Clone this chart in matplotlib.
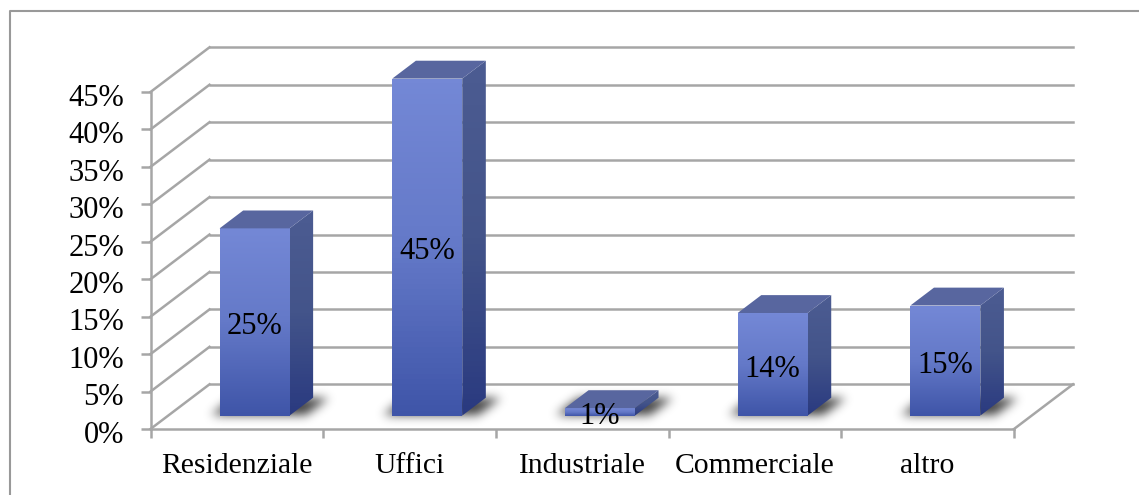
import numpy as np
import matplotlib
matplotlib.use("Agg")
import matplotlib.pyplot as plt
from matplotlib.colors import LinearSegmentedColormap
from matplotlib.patches import Polygon
from matplotlib.transforms import ScaledTranslation

categories = ["Residenziale", "Uffici", "Industriale", "Commerciale", "altro"]
values = [25, 45, 1, 13.7, 14.7]
y_ticks = [0, 5, 10, 15, 20, 25, 30, 35, 40, 45]

W, H = 1139, 495
GRAY = "#a6a6a6"

# pixels per data unit
PX_X = 172.7
PX_Y = 7.49

# fake 3d: one unit of depth moves a point right and up
DEPTH_X = 59 / PX_X
DEPTH_Y = 44.7 / PX_Y
BAR_W = 0.405
BAR_D0, BAR_D1 = 0.3, 0.7

front_cmap = LinearSegmentedColormap.from_list("front", ["#7488d6", "#6479c8", "#3f55a8"])
side_cmap = LinearSegmentedColormap.from_list("side", ["#4c5c92", "#43548a", "#2a3a80"])


def pt(x, y, d):
    return (x + d * DEPTH_X, y + d * DEPTH_Y)


def gradient_face(ax, corners, cmap, y_top, y_bot):
    xs = [c[0] for c in corners]
    ramp = np.linspace(0, 1, 64).reshape(-1, 1)
    im = ax.imshow(ramp, cmap=cmap, aspect="auto", zorder=3,
                   extent=(min(xs), max(xs), y_bot, y_top), origin="upper")
    patch = Polygon(corners, closed=True, transform=ax.transData, fill=False, edgecolor="none",
                    clip_on=False)
    ax.add_patch(patch)
    im.set_clip_box(fig.bbox)
    im.set_clip_path(patch)


def blur(a, sigma):
    r = int(3 * sigma)
    k = np.exp(-0.5 * (np.arange(-r, r + 1) / sigma) ** 2)
    k /= k.sum()
    a = np.apply_along_axis(lambda row: np.convolve(row, k, mode="same"), 1, a)
    return np.apply_along_axis(lambda col: np.convolve(col, k, mode="same"), 0, a)


def draw_shadow(ax, x0, x1):
    # blurred footprint of the bar on the floor, built on a pixel grid
    pad = 30
    wpx = int((x1 - x0) * PX_X) + 23 + 2 * pad
    hpx = 18 + 2 * pad
    px, py = np.meshgrid(np.arange(wpx) - pad, np.arange(hpx) - pad)
    # py counts pixels up from the front edge of the bar
    slid = px - py * 59 / 44.7
    mask = (slid > -10) & (slid < (x1 - x0) * PX_X + 14) & (py > 0) & (py < 18)
    alpha = blur(mask.astype(float), 5.0) * 0.75
    rgba = np.zeros((hpx, wpx, 4))
    rgba[..., 3] = alpha
    bx, by = pt(x0, 0, BAR_D0)
    im = ax.imshow(rgba, origin="lower", aspect="auto", zorder=2,
                   extent=(bx - pad / PX_X, bx + (wpx - pad) / PX_X,
                           by - pad / PX_Y, by + (hpx - pad) / PX_Y))
    im.set_clip_box(fig.bbox)


def draw_bar(ax, center, value):
    x0, x1 = center - BAR_W / 2, center + BAR_W / 2
    draw_shadow(ax, x0, x1)
    base = pt(x0, 0, BAR_D0)[1]
    top = pt(x0, value, BAR_D0)[1]
    front = [pt(x0, 0, BAR_D0), pt(x1, 0, BAR_D0), pt(x1, value, BAR_D0), pt(x0, value, BAR_D0)]
    side = [pt(x1, 0, BAR_D0), pt(x1, 0, BAR_D1), pt(x1, value, BAR_D1), pt(x1, value, BAR_D0)]
    cap = [pt(x0, value, BAR_D0), pt(x1, value, BAR_D0), pt(x1, value, BAR_D1), pt(x0, value, BAR_D1)]
    gradient_face(ax, front, front_cmap, top, base)
    gradient_face(ax, side, side_cmap, pt(x1, value, BAR_D1)[1], pt(x1, 0, BAR_D0)[1])
    ax.add_patch(Polygon(cap, closed=True, facecolor="#58669f", edgecolor="none", zorder=3,
                         clip_on=False))


plt.rcParams["font.family"] = ["Liberation Serif", "DejaVu Serif"]

fig = plt.figure(figsize=(W / 100, H / 100), dpi=100)

# box around the chart, cut off by the image on the right and at the bottom
fig.add_artist(plt.Line2D([10 / W, 10 / W, 1], [0, 1 - 11 / H, 1 - 11 / H], color="#999999", lw=1.5))

ax = fig.add_axes([150.5 / W, 1 - 429 / H, (1014 - 150.5) / W, 337 / H])
ax.patch.set_visible(False)

# walls and floor
for p in y_ticks:
    ax.plot(*zip(pt(0, p, 0), pt(0, p, 1)), color=GRAY, lw=1.8, clip_on=False, zorder=1)
    ax.plot(*zip(pt(0, p, 1), pt(5, p, 1)), color=GRAY, lw=1.8, clip_on=False, zorder=1)
ax.plot(*zip(pt(5, 0, 0), pt(5, 0, 1)), color=GRAY, lw=1.8, clip_on=False, zorder=1)

for i, v in enumerate(values):
    draw_bar(ax, i + 0.5, v)
    ax.annotate(f"{v:.0f}%", pt(i + 0.5, v / 2, BAR_D0), xytext=(0, -3.5), textcoords="offset points",
                ha="center", va="center", fontsize=22, color="black", zorder=5,
                annotation_clip=False)

ax.set_xlim(0, 5)
ax.set_ylim(0, y_ticks[-1])
ax.set_yticks(y_ticks)
ax.set_yticklabels([f"{t}%" for t in y_ticks], fontsize=22)
ax.set_xticks(range(6))
ax.set_xticklabels([])
ax.set_xticks(np.arange(5) + 0.5, labels=categories, minor=True, fontsize=21.3)
ax.tick_params(axis="y", which="major", length=7, width=1.8, color=GRAY, pad=12)
ax.tick_params(axis="x", which="major", length=6.5, width=1.8, color=GRAY)
ax.tick_params(axis="x", which="minor", length=0, pad=17)
ax.spines["top"].set_visible(False)
ax.spines["right"].set_visible(False)
for name in ["left", "bottom"]:
    ax.spines[name].set_color(GRAY)
    ax.spines[name].set_linewidth(1.8)

shift = ScaledTranslation(0, -2 / 72, fig.dpi_scale_trans)
for label in ax.get_yticklabels():
    label.set_transform(label.get_transform() + shift)

fig.savefig("out.png", dpi=100)
